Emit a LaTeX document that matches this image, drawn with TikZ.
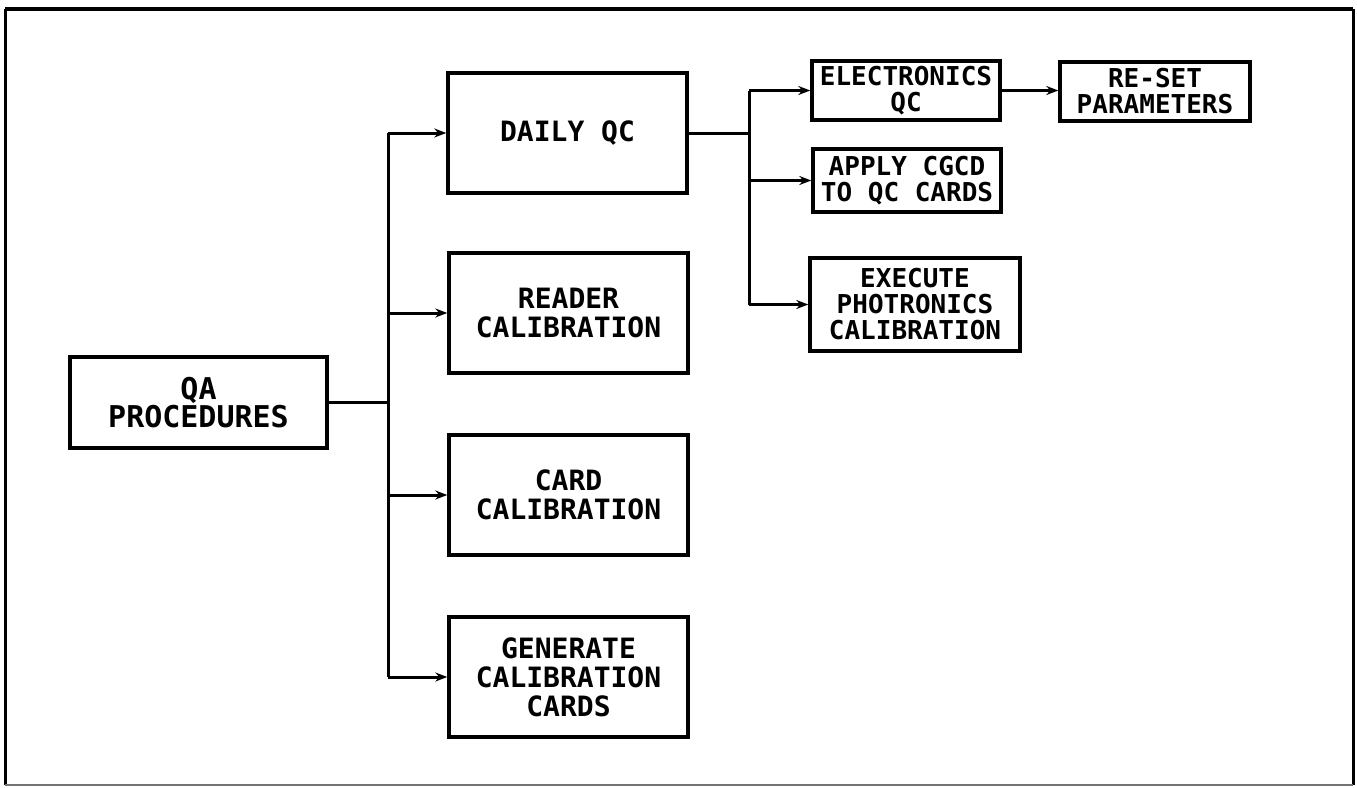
\documentclass[tikz,border=0pt]{standalone}
\usepackage{fontspec}
\newfontfamily\plotfont{DejaVu Sans Mono}
\usetikzlibrary{arrows.meta}
\tikzset{
  bigbox/.style={draw, line width=3.4pt, minimum width=239pt, minimum height=120pt, inner sep=0pt, align=center,
    font=\fontsize{28}{29}\selectfont\plotfont\bfseries},
  smallbox/.style={draw, line width=3.4pt, inner sep=0pt, align=center,
    font=\fontsize{26}{26}\selectfont\plotfont\bfseries},
  conn/.style={line width=3pt},
  arr/.style={line width=3pt, -{Stealth[length=12pt,width=9pt]}},
  frameline/.style={line width=3pt}
}
\begin{document}
\begin{tikzpicture}[x=1pt,y=-1pt]
\useasboundingbox (0,0) rectangle (1357,787);
% outer frame
\draw[frameline] (5,785) -- (5,9);
\draw[line width=4.5pt] (5,9) -- (1353,9);
\draw[frameline] (1353,9) -- (1353,785);
\draw[line width=2.5pt, black!55] (5,785) -- (1353,785);

% main boxes
\node[bigbox, minimum width=257pt, minimum height=91pt, font=\fontsize{30}{28}\selectfont\plotfont\bfseries] (qa) at (198.5,402.5) {QA\\PROCEDURES};
\node[bigbox] (daily)  at (567.5,133) {DAILY QC};
\node[bigbox] (reader) at (568.5,313) {READER\\CALIBRATION};
\node[bigbox] (card)   at (568.5,495) {CARD\\CALIBRATION};
\node[bigbox] (gen)    at (568.5,677) {GENERATE\\CALIBRATION\\CARDS};

% right boxes
\node[smallbox, minimum width=188pt, minimum height=59pt] (elec)  at (906,90.5) {ELECTRONICS\\QC};
\node[smallbox, minimum width=190pt, minimum height=59pt] (reset) at (1155,91.5) {RE-SET\\PARAMETERS};
\node[smallbox, minimum width=188pt, minimum height=63pt] (apply) at (907,180.5) {APPLY CGCD\\TO QC CARDS};
\node[smallbox, minimum width=210pt, minimum height=93pt] (exec)  at (915,304.5) {EXECUTE\\PHOTRONICS\\CALIBRATION};

% bus 1
\coordinate (b1) at (388,404);
\draw[conn] (qa.east) -- (b1 |- qa.east);
\draw[conn] (b1 |- daily.west) -- (b1 |- gen.west);
\draw[arr] (b1 |- daily.west) -- (daily.west);
\draw[arr] (b1 |- reader.west) -- (reader.west);
\draw[arr] (b1 |- card.west) -- (card.west);
\draw[arr] (b1 |- gen.west) -- (gen.west);

% bus 2
\coordinate (b2) at (749,133);
\draw[conn] (daily.east) -- (b2 |- daily.east);
\draw[conn] (b2 |- elec.west) -- (b2 |- exec.west);
\draw[arr] (b2 |- elec.west) -- (elec.west);
\draw[arr] (b2 |- apply.west) -- (apply.west);
\draw[arr] (b2 |- exec.west) -- (exec.west);

% electronics to reset
\draw[arr] (elec.east) -- (reset.west |- elec.east);
\end{tikzpicture}
\end{document}
